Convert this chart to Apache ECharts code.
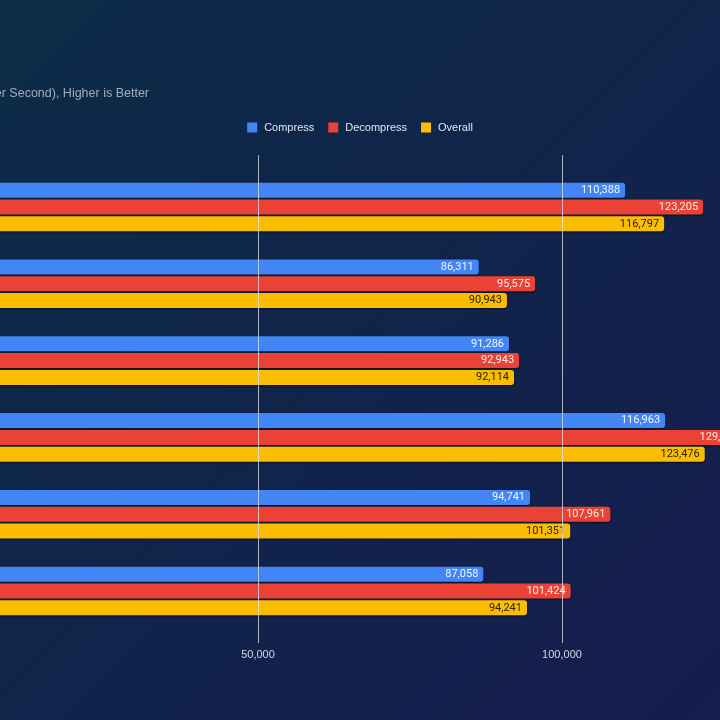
<!DOCTYPE html>
<html><head><meta charset="utf-8">
<style>html,body{margin:0;padding:0;background:#0f2547;}#c{width:720px;height:720px;}</style>
<script src="https://cdn.jsdelivr.net/npm/echarts@6/dist/echarts.min.js"></script>
</head><body><div id="c"></div>
<script>
const categories = ['System 1', 'System 2', 'System 3', 'System 4', 'System 5', 'System 6'];
const seriesNames = ['Compress', 'Decompress', 'Overall'];
const compress = [110388, 86311, 91286, 116963, 94741, 87058];
const decompress = [123205, 95575, 92943, 129900, 107961, 101424];
const overall = [116797, 90943, 92114, 123476, 101351, 94241];
const subtitle = '7-Zip Benchmark (Million Instructions Per Second), Higher is Better';

const colors = ['#4285F4', '#EA4335', '#FBBC04'];
const labelColors = ['#f4f7ff', '#fbeeee', '#2b2300'];
const fmt = v => v.toLocaleString('en-US');

const chart = echarts.init(document.getElementById('c'));
const mk = (name, data, i) => ({
  name, type: 'bar', data, xAxisIndex: 1, yAxisIndex: 1,
  barWidth: 15, barGap: '12%',
  itemStyle: { color: colors[i], borderRadius: [0, 3, 3, 0],
    shadowColor: 'rgba(0,0,0,0.55)', shadowOffsetY: 1, shadowBlur: 2 },
  label: { show: true, position: 'insideRight', distance: 5, color: labelColors[i],
    fontFamily: 'Roboto', fontSize: 11, formatter: p => fmt(p.value) }
});
chart.setOption({
  backgroundColor: { type: 'linear', x: 0, y: 0, x2: 1, y2: 1, colorStops: [
    { offset: 0, color: '#0b2c47' }, { offset: 1, color: '#161c4e' } ] },
  graphic: [{ type: 'text', right: 571, top: 87,
    style: { text: subtitle, fill: '#a3acbb', font: '12.5px "Helvetica", "Liberation Sans", Arial', textAlign: 'right' } }],
  legend: { top: 117, left: 'center', itemWidth: 10, itemHeight: 10, itemGap: 14, icon: 'rect',
    textStyle: { color: '#e2e6ee', fontSize: 11, fontFamily: 'Liberation Sans', padding: [0, 0, 0, 2] },
    data: seriesNames },
  grid: [
    { left: -46, right: -146, top: 155, bottom: 77, outerBoundsMode: 'none', containLabel: false },
    { left: -46, right: -146, top: 168.6, bottom: 90.6, outerBoundsMode: 'none', containLabel: false }
  ],
  xAxis: [
    { gridIndex: 0, type: 'value', min: 0, max: 150000, interval: 50000, z: 10,
      axisLine: { show: false }, axisTick: { show: false },
      splitLine: { show: true, lineStyle: { color: 'rgba(225,230,240,0.75)', width: 1 } },
      axisLabel: { color: '#d4d9e3', fontSize: 11, fontFamily: 'Liberation Sans', margin: 6, formatter: v => fmt(v) } },
    { gridIndex: 1, type: 'value', min: 0, max: 150000, show: false }
  ],
  yAxis: [
    { gridIndex: 0, type: 'category', data: categories, show: false },
    { gridIndex: 1, type: 'category', data: categories, inverse: true, show: false }
  ],
  series: [mk(seriesNames[0], compress, 0), mk(seriesNames[1], decompress, 1), mk(seriesNames[2], overall, 2)]
});
</script></body></html>
